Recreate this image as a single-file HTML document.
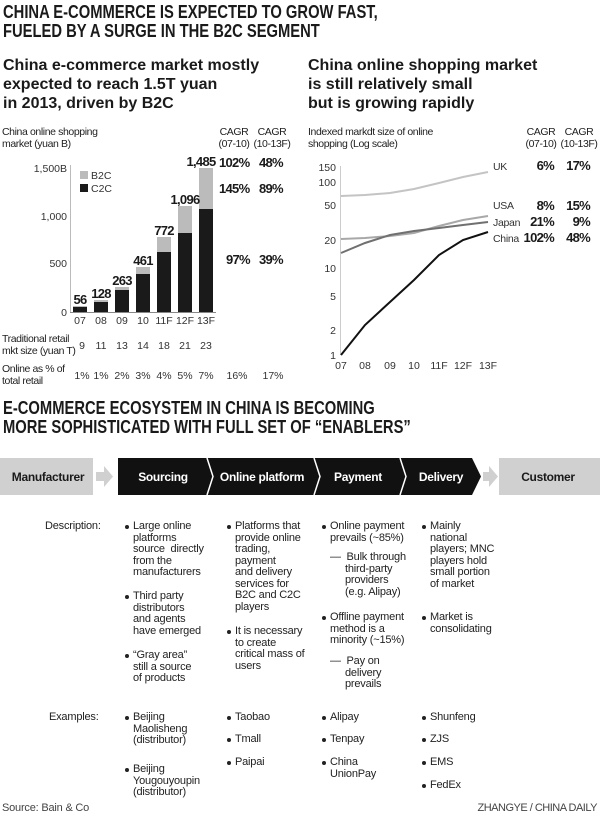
<!DOCTYPE html>
<html><head><meta charset="utf-8"><style>
*{margin:0;padding:0;box-sizing:border-box}
body{width:600px;height:819px;background:#fff;position:relative;overflow:hidden;font-family:"Liberation Sans",sans-serif;color:#222;font-size:11px}
.a{position:absolute;white-space:nowrap;line-height:12px}
.t{font-weight:bold;font-size:18px;line-height:19px;transform:scaleX(0.82);transform-origin:left top;color:#1a1a1a}
.s{font-weight:bold;font-size:16px;line-height:19px;color:#1a1a1a}
.r{text-align:right}
.c{text-align:center}
.n{font-size:10.5px;letter-spacing:-0.4px}
.d{line-height:11.5px;font-size:11px;letter-spacing:-0.2px}
.bl{position:relative}
.bl:before{content:"";position:absolute;left:-8px;top:4px;width:4px;height:4px;border-radius:50%;background:#222}
svg .bn{letter-spacing:-0.7px}
</style></head><body>
<div class="a t" style="left:3px;top:3px">CHINA E-COMMERCE IS EXPECTED TO GROW FAST,</div>
<div class="a t" style="left:3px;top:22px">FUELED BY A SURGE IN THE B2C SEGMENT</div>
<div class="a s" style="left:3px;top:56px;line-height:19px">China e-commerce market mostly<br>expected to reach 1.5T yuan<br>in 2013, driven by B2C</div>
<div class="a s" style="left:308px;top:56px;line-height:19px">China online shopping market<br>is still relatively small<br>but is growing rapidly</div>

<!-- left chart -->
<div class="a n" style="left:2px;top:126px">China online shopping<br>market (yuan B)</div>
<div class="a c n" style="left:214px;top:126px;width:40px">CAGR<br>(07-10)</div>
<div class="a c n" style="left:252px;top:126px;width:40px">CAGR<br>(10-13F)</div>
<svg class="a" style="left:0;top:0" width="300" height="400">
<g font-family="Liberation Sans" font-size="10.5" fill="#333" text-anchor="end">
<text x="67" y="172">1,500B</text><text x="67" y="220">1,000</text><text x="67" y="267">500</text><text x="67" y="316">0</text></g>
<line x1="70.5" y1="165" x2="70.5" y2="312" stroke="#bbb"/>
<line x1="70" y1="312.5" x2="216" y2="312.5" stroke="#888"/>
<rect x="80" y="171" width="8" height="8" fill="#bbb"/><rect x="80" y="184" width="8" height="8" fill="#1a1a1a"/>
<text x="91" y="179" font-family="Liberation Sans" font-size="10.5" fill="#333">B2C</text>
<text x="91" y="192" font-family="Liberation Sans" font-size="10.5" fill="#333">C2C</text>
<g fill="#bbb">
<rect x="73" y="306" width="14" height="6"/><rect x="94" y="300" width="14" height="12"/><rect x="115" y="287" width="14" height="25"/><rect x="136" y="267" width="14" height="45"/><rect x="157" y="237" width="14" height="75"/><rect x="178" y="206" width="14" height="106"/><rect x="199" y="168" width="14" height="144"/></g>
<g fill="#1a1a1a">
<rect x="73" y="307" width="14" height="5"/><rect x="94" y="302" width="14" height="10"/><rect x="115" y="290" width="14" height="22"/><rect x="136" y="274" width="14" height="38"/><rect x="157" y="252" width="14" height="60"/><rect x="178" y="233" width="14" height="79"/><rect x="199" y="209" width="14" height="103"/></g>
<g class="bn" font-family="Liberation Sans" font-size="13" font-weight="bold" fill="#1a1a1a" text-anchor="middle">
<text x="80" y="304">56</text><text x="101" y="298">128</text><text x="122" y="285">263</text><text x="143" y="265">461</text><text x="164" y="235">772</text><text x="185" y="204">1,096</text><text x="201" y="166">1,485</text></g>
<g font-family="Liberation Sans" font-size="10.5" fill="#333" text-anchor="middle">
<text x="80" y="324">07</text><text x="101" y="324">08</text><text x="122" y="324">09</text><text x="143" y="324">10</text><text x="164" y="324">11F</text><text x="185" y="324">12F</text><text x="206" y="324">13F</text>
<text x="82" y="349">9</text><text x="101" y="349">11</text><text x="122" y="349">13</text><text x="143" y="349">14</text><text x="164" y="349">18</text><text x="185" y="349">21</text><text x="206" y="349">23</text>
<text x="82" y="379">1%</text><text x="101" y="379">1%</text><text x="122" y="379">2%</text><text x="143" y="379">3%</text><text x="164" y="379">4%</text><text x="185" y="379">5%</text><text x="206" y="379">7%</text><text x="237" y="379">16%</text><text x="273" y="379">17%</text></g>
<g class="bn" font-family="Liberation Sans" font-size="13" font-weight="bold" fill="#1a1a1a">
<text x="219" y="167">102%</text><text x="259" y="167">48%</text>
<text x="219" y="193">145%</text><text x="259" y="193">89%</text>
<text x="226" y="264">97%</text><text x="259" y="264">39%</text></g>
</svg>
<div class="a n" style="left:2px;top:333px">Traditional retail<br>mkt size (yuan T)</div>
<div class="a n" style="left:2px;top:363px">Online as % of<br>total retail</div>

<!-- right chart -->
<div class="a n" style="left:308px;top:126px">Indexed markdt size of online<br>shopping (Log scale)</div>
<div class="a c n" style="left:521px;top:126px;width:40px">CAGR<br>(07-10)</div>
<div class="a c n" style="left:558px;top:126px;width:42px">CAGR<br>(10-13F)</div>
<svg class="a" style="left:0;top:0" width="600" height="400">
<g font-family="Liberation Sans" font-size="10.5" fill="#333" text-anchor="end">
<text x="336" y="171">150</text><text x="336" y="186">100</text><text x="336" y="209">50</text><text x="336" y="244">20</text><text x="336" y="272">10</text><text x="336" y="300">5</text><text x="336" y="334">2</text><text x="336" y="359">1</text></g>
<line x1="340.5" y1="166" x2="340.5" y2="355" stroke="#ccc"/>
<g font-family="Liberation Sans" font-size="10.5" fill="#333" text-anchor="middle">
<text x="341" y="369">07</text><text x="365" y="369">08</text><text x="390" y="369">09</text><text x="414" y="369">10</text><text x="439" y="369">11F</text><text x="463" y="369">12F</text><text x="488" y="369">13F</text></g>
<g fill="none" stroke-width="2">
<polyline stroke="#c4c4c4" points="341,196 365,195 390,193 414,189 439,183 463,177 488,172"/>
<polyline stroke="#a8a8a8" points="341,239 365,238 390,236 414,233 439,226 463,220 488,216"/>
<polyline stroke="#707070" points="341,253 365,243 390,235 414,231 439,228 463,225 488,222"/>
<polyline stroke="#111" points="341,355 365,325 390,302 414,280 439,255 463,240 488,232"/>
</g>
<g font-family="Liberation Sans" font-size="10.5" fill="#333" letter-spacing="-0.3">
<text x="493" y="170">UK</text><text x="493" y="209">USA</text><text x="493" y="226">Japan</text><text x="493" y="242">China</text></g>
<g class="bn" font-family="Liberation Sans" font-size="13" font-weight="bold" fill="#1a1a1a" text-anchor="end">
<text x="554" y="170">6%</text><text x="590" y="170">17%</text>
<text x="554" y="210">8%</text><text x="590" y="210">15%</text>
<text x="554" y="226">21%</text><text x="590" y="226">9%</text>
<text x="554" y="242">102%</text><text x="590" y="242">48%</text></g>
</svg>

<!-- bottom -->
<div class="a t" style="left:3px;top:399px">E-COMMERCE ECOSYSTEM IN CHINA IS BECOMING</div>
<div class="a t" style="left:3px;top:418px">MORE SOPHISTICATED WITH FULL SET OF “ENABLERS”</div>
<svg class="a" style="left:0;top:458px" width="600" height="38">
<rect x="0" y="0" width="93" height="37" fill="#d0d0d0"/>
<polygon points="96,14 104,14 104,8 113,18.5 104,29 104,23 96,23" fill="#d0d0d0"/>
<polygon points="118,0 472,0 481,18.5 472,37 118,37" fill="#111"/>
<g stroke="#fff" stroke-width="1.5" fill="none">
<polyline points="207,0 213,18.5 207,37"/><polyline points="314,0 320,18.5 314,37"/><polyline points="400,0 406,18.5 400,37"/></g>
<polygon points="483,14 489,14 489,8 498,18.5 489,29 489,23 483,23" fill="#d0d0d0"/>
<rect x="499" y="0" width="101" height="37" fill="#d0d0d0"/>
<g font-family="Liberation Sans" font-size="12" font-weight="bold" text-anchor="middle" letter-spacing="-0.3">
<text x="48" y="23" fill="#1a1a1a">Manufacturer</text>
<text x="163" y="23" fill="#fff">Sourcing</text>
<text x="262" y="23" fill="#fff">Online platform</text>
<text x="358" y="23" fill="#fff">Payment</text>
<text x="441" y="23" fill="#fff">Delivery</text>
<text x="548" y="23" fill="#1a1a1a">Customer</text></g>
</svg>

<div class="a d" style="left:45px;top:521px">Description:</div>
<div class="a d" style="left:133px;top:521px"><div class="bl">Large online</div>platforms<br>source&nbsp; directly<br>from the<br>manufacturers</div>
<div class="a d" style="left:133px;top:591px"><div class="bl">Third party</div>distributors<br>and agents<br>have emerged</div>
<div class="a d" style="left:133px;top:650px"><div class="bl">“Gray area”</div>still a source<br>of products</div>
<div class="a d" style="left:235px;top:521px"><div class="bl">Platforms that</div>provide online<br>trading,<br>payment<br>and delivery<br>services for<br>B2C and C2C<br>players</div>
<div class="a d" style="left:235px;top:626px"><div class="bl">It is necessary</div>to create<br>critical mass of<br>users</div>
<div class="a d" style="left:330px;top:521px"><div class="bl">Online payment</div>prevails (~85%)</div>
<div class="a d" style="left:330px;top:552px">—&nbsp; Bulk through</div>
<div class="a d" style="left:345px;top:563.5px">third-party<br>providers<br>(e.g. Alipay)</div>
<div class="a d" style="left:330px;top:612px"><div class="bl">Offline payment</div>method is a<br>minority (~15%)</div>
<div class="a d" style="left:330px;top:656px">—&nbsp; Pay on</div>
<div class="a d" style="left:345px;top:667.5px">delivery<br>prevails</div>
<div class="a d" style="left:430px;top:521px"><div class="bl">Mainly</div>national<br>players; MNC<br>players hold<br>small portion<br>of market</div>
<div class="a d" style="left:430px;top:612px"><div class="bl">Market is</div>consolidating</div>

<div class="a d" style="left:49px;top:712px">Examples:</div>
<div class="a d" style="left:133px;top:712px"><div class="bl">Beijing</div>Maolisheng<br>(distributor)</div>
<div class="a d" style="left:133px;top:764px"><div class="bl">Beijing</div>Yougouyoupin<br>(distributor)</div>
<div class="a d" style="left:235px;top:712px"><div class="bl">Taobao</div></div>
<div class="a d" style="left:235px;top:734px"><div class="bl">Tmall</div></div>
<div class="a d" style="left:235px;top:757px"><div class="bl">Paipai</div></div>
<div class="a d" style="left:330px;top:712px"><div class="bl">Alipay</div></div>
<div class="a d" style="left:330px;top:734px"><div class="bl">Tenpay</div></div>
<div class="a d" style="left:330px;top:757px"><div class="bl">China</div>UnionPay</div>
<div class="a d" style="left:430px;top:712px"><div class="bl">Shunfeng</div></div>
<div class="a d" style="left:430px;top:734px"><div class="bl">ZJS</div></div>
<div class="a d" style="left:430px;top:757px"><div class="bl">EMS</div></div>
<div class="a d" style="left:430px;top:780px"><div class="bl">FedEx</div></div>
<div class="a d" style="left:2px;top:803px;color:#444">Source: Bain &amp; Co</div>
<div class="a d r" style="right:3px;top:803px;color:#444;letter-spacing:-0.5px">ZHANGYE / CHINA DAILY</div>
</body></html>
